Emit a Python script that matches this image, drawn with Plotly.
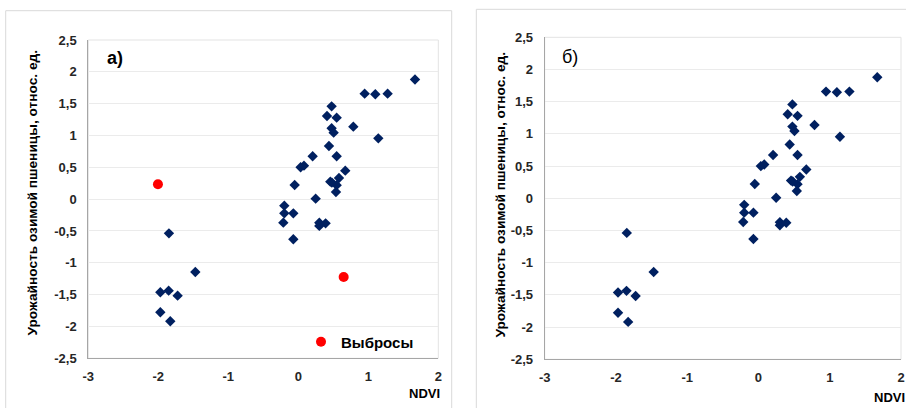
import plotly.graph_objects as go

# ---------------- data ----------------
ndvi = [1.667, 0.948, 1.10, 1.276, 0.476, 0.41, 0.548, 0.786, 0.476, 0.505,
        1.143, 0.438, 0.205, 0.548, 0.033, 0.081, 0.671, 0.581, 0.457, 0.548,
        0.538, -0.052, 0.248, -0.20, -0.20, -0.071, -0.214, 0.30, 0.30, 0.39,
        -0.071, -1.848, -1.471, -1.971, -1.852, -1.724, -1.971, -1.829, 0.48]
yield_ = [1.88, 1.657, 1.647, 1.657, 1.458, 1.306, 1.28, 1.139, 1.113, 1.045,
          0.955, 0.835, 0.673, 0.673, 0.50, 0.526, 0.448, 0.333, 0.275, 0.22,
          0.113, 0.223, 0.008, -0.102, -0.223, -0.223, -0.369, -0.37, -0.42, -0.38,
          -0.631, -0.537, -1.144, -1.463, -1.437, -1.516, -1.777, -1.919, 0.26]
outlier_ndvi = [-2.005, 0.648]
outlier_yield = [0.233, -1.223]

x_tickvals = [-3, -2, -1, 0, 1, 2]
x_ticktext = ["-3", "-2", "-1", "0", "1", "2"]
y_tickvals = [-2.5, -2, -1.5, -1, -0.5, 0, 0.5, 1, 1.5, 2, 2.5]
y_ticktext = ["-2,5", "-2", "-1,5", "-1", "-0,5", "0", "0,5", "1", "1,5", "2", "2,5"]

y_title = "Урожайность озимой пшеницы, относ. ед."
x_title = "NDVI"
outlier_name = "Выбросы"

W, H = 906, 408
def px(x):
    return x / W
def py(y):
    return 1 - y / H

navy = "#002060"
red = "#FF0000"
font_fam = "Liberation Sans, Arial, sans-serif"
tick_font = dict(family=font_fam, size=13, color="#262626", weight="bold")

fig = go.Figure()
fig.add_trace(go.Scatter(x=ndvi, y=yield_, mode="markers", xaxis="x", yaxis="y",
                         marker=dict(symbol="diamond", size=8, color=navy),
                         showlegend=False, hoverinfo="x+y"))
fig.add_trace(go.Scatter(x=outlier_ndvi, y=outlier_yield, mode="markers",
                         xaxis="x", yaxis="y", name=outlier_name,
                         marker=dict(symbol="circle", size=10, color=red),
                         showlegend=True))
fig.add_trace(go.Scatter(x=ndvi, y=yield_, mode="markers", xaxis="x2", yaxis="y2",
                         marker=dict(symbol="diamond", size=8, color=navy),
                         showlegend=False))

def xax(domain, anchor):
    return dict(domain=domain, anchor=anchor, range=[-3, 2], tickvals=x_tickvals,
                ticktext=x_ticktext, showgrid=False, zeroline=False, showline=True,
                linecolor="#A6A6A6", linewidth=1, ticks="", tickfont=tick_font,
                ticklabelstandoff=6, fixedrange=True, automargin=False)

def yax(domain, anchor):
    return dict(domain=domain, anchor=anchor, range=[-2.5, 2.5], tickvals=y_tickvals,
                ticktext=y_ticktext, showgrid=True, gridcolor="#EBEBEB", gridwidth=1,
                zeroline=False, showline=True, linecolor="#A6A6A6", linewidth=1,
                ticks="", tickfont=tick_font, ticklabelstandoff=8, fixedrange=True,
                automargin=False)

def ann(text, x, y, size, bold=True, angle=0):
    f = dict(family=font_fam, size=size, color="#000000")
    if bold:
        f["weight"] = "bold"
    return dict(text=text, xref="paper", yref="paper", x=px(x), y=py(y),
                xanchor="center", yanchor="middle", textangle=angle,
                showarrow=False, font=f)

fig.update_layout(
    width=W, height=H,
    autosize=False,
    margin=dict(l=0, r=0, t=0, b=0, pad=0, autoexpand=False),
    paper_bgcolor="white", plot_bgcolor="white",
    xaxis=xax([px(88.3), px(438.3)], "y"),
    yaxis=yax([py(358.3), py(40)], "x"),
    xaxis2=xax([px(544.7), px(901)], "y2"),
    yaxis2=yax([py(359.3), py(37.3)], "x2"),
    legend=dict(x=px(301), y=py(342), xanchor="left", yanchor="middle",
                bgcolor="rgba(0,0,0,0)", borderwidth=0,
                font=dict(family=font_fam, size=15, color="#000000", weight="bold"),
                itemwidth=30),
    showlegend=True,
    shapes=[
        dict(type="rect", xref="paper", yref="paper", x0=px(5.7), x1=px(451.7),
             y0=-0.05, y1=py(10.7), line=dict(color="#D9D9D9", width=1), layer="below"),
        dict(type="rect", xref="paper", yref="paper", x0=px(476.3), x1=1.05,
             y0=-0.05, y1=py(9.3), line=dict(color="#D9D9D9", width=1), layer="below"),
        dict(type="rect", xref="x domain", yref="y domain", x0=0, x1=1, y0=0, y1=1,
             line=dict(color="#E3E3E3", width=1), layer="below"),
        dict(type="rect", xref="x2 domain", yref="y2 domain", x0=0, x1=1, y0=0, y1=1,
             line=dict(color="#E3E3E3", width=1), layer="below"),
    ],
    annotations=[
        ann(y_title, 32, 192.5, 13.7, angle=-90),
        ann(y_title, 499.5, 195, 13.7, angle=-90),
        ann(x_title, 424, 393, 13),
        ann(x_title, 889, 397, 13),
        ann("а)", 115, 58, 18),
        ann("б)", 570, 57, 18, bold=False),
    ],
)

fig.write_html("out.html",
               config={"displayModeBar": False},
               post_script="document.body.style.margin='0px';"
                           "document.documentElement.style.overflow='hidden';")
